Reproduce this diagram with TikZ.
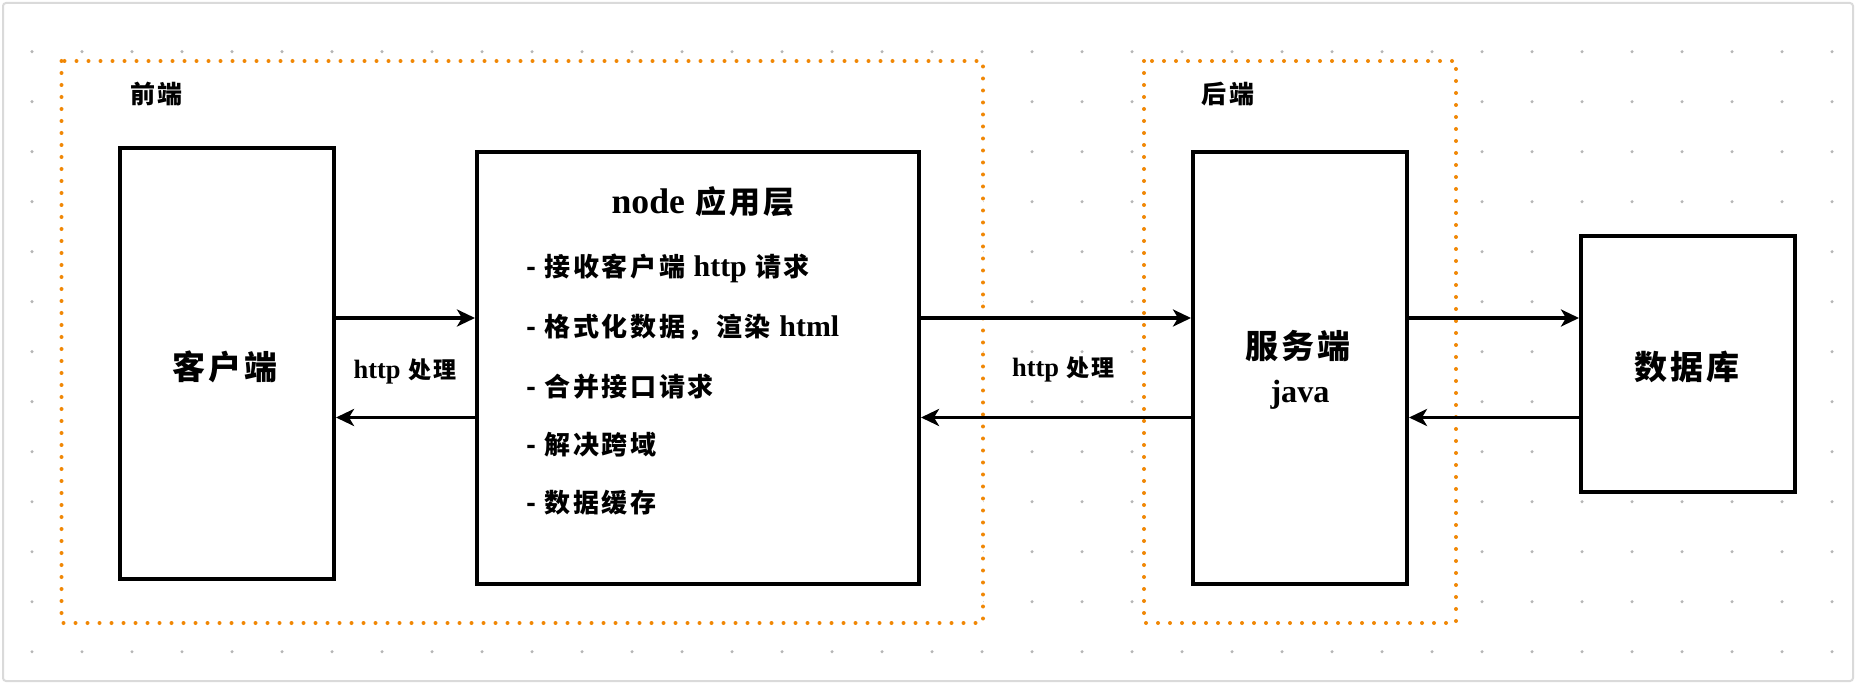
\documentclass[tikz,border=0pt]{standalone}
\usepackage{fontspec}
\usetikzlibrary{arrows.meta}
\newfontfamily\cjkf[LetterSpace=10]{Noto Sans CJK SC}
\newfontfamily\latf[Scale=1.15]{Liberation Serif}
\newcommand{\lt}[1]{{\latf\bfseries #1}}
\definecolor{frameorange}{HTML}{F08705}
\definecolor{griddot}{HTML}{B5B5B5}
\definecolor{canvasedge}{HTML}{DADADA}
\newcommand{\fs}[1]{\fontsize{#1}{#1}\selectfont\cjkf\bfseries}
\tikzset{
  box/.style={draw=black, line width=4pt, fill=white, inner sep=0pt},
  group/.style={draw=frameorange, line width=4pt, dash pattern=on 0pt off 12pt, line cap=round, fill=white},
  arr/.style={draw=black, line width=3.5pt, -{Stealth[length=18pt,width=17pt,inset=5pt]}},
  lbl/.style={inner sep=0pt, text=black},
}
\begin{document}
\begin{tikzpicture}[x=1pt,y=-1pt]
\useasboundingbox (0,0) rectangle (1856,684);
% canvas edge
\draw[canvasedge, line width=2pt, rounded corners=3pt] (3,3) rectangle (1853,681);
% dotted background grid
\foreach \i in {0,...,36}{
  \foreach \j in {0,...,12}{
    \fill[griddot] (32+50*\i, 51.7+50*\j) circle (1.7pt);
  }
}
% front-end and back-end groups
\path[group] (61.5,61) rectangle (983,623);
\path[group] (1144,61) rectangle (1456,623);
\node[lbl, font=\fs{25}] (fe) at (156.5,94.5) {前端};
\node[lbl, font=\fs{25}] (be) at (1228,94) {后端};
% boxes
\node[box, minimum width=214pt, minimum height=431pt] (client) at (227,363.5) {};
\node[box, minimum width=442pt, minimum height=432pt] (app) at (698,368) {};
\node[box, minimum width=214pt, minimum height=432pt] (server) at (1300,368) {};
\node[box, minimum width=214pt, minimum height=256pt] (db) at (1688,364) {};
% arrow rows
\coordinate (up) at (0,318);
\coordinate (dn) at (0,417.5);
\draw[arr] (client.east |- up) -- (app.west |- up);
\draw[arr] (app.west |- dn) -- (client.east |- dn);
\draw[arr] (app.east |- up) -- (server.west |- up);
\draw[arr] (server.west |- dn) -- (app.east |- dn);
\draw[arr] (server.east |- up) -- (db.west |- up);
\draw[arr] (db.west |- dn) -- (server.east |- dn);
% labels
\node[lbl, font=\fs{33}] (clientlbl) at (225,367) {客户端};
\node[lbl, font=\fs{31}] (apptitle) at (703,202) {\lt{node} 应用层};
\node[lbl, font=\fs{26}, anchor=west] (b1) at (526,268) {- 接收客户端 \lt{http} 请求};
\node[lbl, font=\fs{26}, anchor=west] (b2) at (526,327) {- 格式化数据，渲染 \lt{html}};
\node[lbl, font=\fs{26}, anchor=west] (b3) at (526,387) {- 合并接口请求};
\node[lbl, font=\fs{26}, anchor=west] (b4) at (526,445) {- 解决跨域};
\node[lbl, font=\fs{26}, anchor=west] (b5) at (526,503) {- 数据缓存};
\node[lbl, font=\fs{33}] (serverlbl) at (1298,346) {服务端};
\node[lbl, font=\fs{28}] (javalbl) at (1300,395) {\lt{java}};
\node[lbl, font=\fs{33}] (dblbl) at (1687,367) {数据库};
\node[lbl, font=\fs{23}] (http1) at (405,371) {\lt{http} 处理};
\node[lbl, font=\fs{23}] (http2) at (1063.5,369) {\lt{http} 处理};
\end{tikzpicture}
\end{document}
